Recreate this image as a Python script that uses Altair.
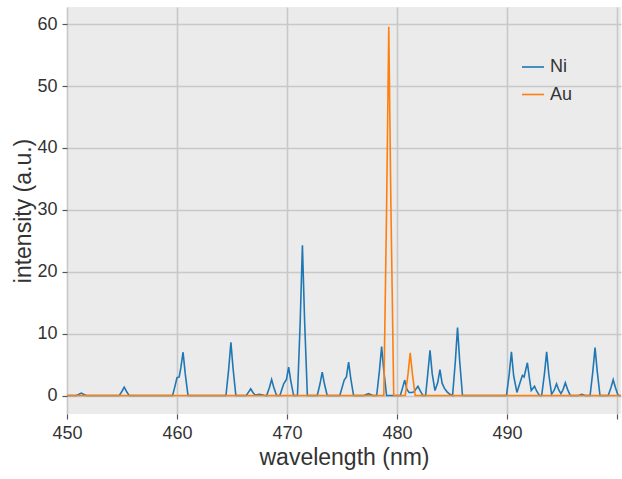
import altair as alt
import pandas as pd

# Ni emission spectrum vertices (wavelength nm, intensity a.u.)
ni_wl = [
    450.0,
    450.85, 451.1, 451.3, 451.5, 451.75,
    454.75, 455.0, 455.2, 455.4, 455.65,
    459.6, 459.8, 460.0, 460.2, 460.35, 460.55, 460.75, 461.0,
    464.45, 464.7, 464.9, 465.1, 465.35,
    466.3, 466.5, 466.7, 466.9, 467.1, 467.5, 467.9,
    468.15, 468.4, 468.6, 468.8, 469.05,
    469.35, 469.7, 469.95, 470.15, 470.35, 470.6,
    470.95, 471.2, 471.4, 471.6, 471.85,
    472.75, 473.0, 473.2, 473.4, 473.65,
    474.8, 475.2, 475.4, 475.6, 475.8, 476.05,
    477.0, 477.4, 477.8,
    478.15, 478.4, 478.6, 478.8, 479.05,
    480.3, 480.5, 480.7, 480.9, 481.1, 481.35, 481.55, 481.7, 481.9, 482.1, 482.35,
    482.6, 482.8, 483.0, 483.2, 483.45, 483.7, 483.9, 484.1, 484.3, 484.55, 484.8, 485.05,
    485.3, 485.5, 485.7, 485.95,
    489.95, 490.2, 490.4, 490.6, 490.9, 491.2, 491.4, 491.55, 491.85, 492.05, 492.2,
    492.5, 492.7, 492.95,
    493.15, 493.4, 493.6, 493.8, 494.05, 494.3, 494.5, 494.7, 494.9, 495.1, 495.3,
    495.5, 495.75,
    496.5, 496.8, 497.1,
    497.55, 497.8, 498.0, 498.2, 498.45,
    499.2, 499.45, 499.65, 499.85, 500.1, 500.36,
]
ni_int = [
    0,
    0, 0.2, 0.4, 0.2, 0,
    0, 0.7, 1.35, 0.7, 0,
    0, 1.4, 2.9, 3.0, 4.5, 7.0, 3.5, 0,
    0, 4.3, 8.6, 4.3, 0,
    0, 0.55, 1.1, 0.5, 0.1, 0.2, 0.05,
    0, 1.3, 2.6, 1.3, 0,
    0, 1.9, 2.6, 4.6, 2.3, 0,
    0, 12.0, 24.3, 12.0, 0,
    0, 1.9, 3.8, 1.9, 0,
    0, 2.5, 3.0, 5.4, 2.7, 0,
    0, 0.3, 0,
    0, 4.0, 7.9, 4.0, 0,
    0, 1.2, 2.5, 1.0, 0.5, 0.5, 0.6, 1.0, 1.5, 0.8, 0,
    0, 3.6, 7.3, 3.5, 0.8, 2.1, 4.2, 2.0, 1.2, 0.6, 0.2, 0,
    5.5, 11.0, 5.5, 0,
    0, 3.5, 7.05, 3.2, 0.5, 2.2, 3.25, 3.0, 5.3, 2.6, 0.8,
    1.5, 0.7, 0,
    0, 3.5, 7.05, 3.4, 0.2, 0.9, 1.9, 0.9, 0.3, 1.0, 2.05,
    1.0, 0,
    0, 0.2, 0,
    0, 3.9, 7.75, 3.9, 0,
    0, 1.3, 2.55, 1.3, 0, 0,
]

# Au emission spectrum vertices
au_wl = [450.0, 478.8, 479.05, 479.25, 479.45, 479.7,
         480.75, 481.0, 481.2, 481.4, 481.65, 500.36]
au_int = [0, 0, 30.0, 59.6, 30.0, 0,
          0, 3.5, 6.9, 3.5, 0, 0]

series_names = ["Ni", "Au"]
series_colors = ["#1f77b4", "#ff7f0e"]
x_ticks = [450, 460, 470, 480, 490, 500]
y_ticks = [0, 10, 20, 30, 40, 50, 60]

df = pd.concat([
    pd.DataFrame({"wl": ni_wl, "intensity": ni_int, "series": "Ni", "k": 0}),
    pd.DataFrame({"wl": au_wl, "intensity": au_int, "series": "Au", "k": 1}),
], ignore_index=True)

chart = alt.Chart(df).mark_line(strokeWidth=1.6, clip=True).encode(
    x=alt.X("wl:Q",
            scale=alt.Scale(domain=[450, 500.36], nice=False, zero=False),
            axis=alt.Axis(values=x_ticks, title="wavelength (nm)", labelFlush=False,
                          labelExpr="datum.value == 500 ? '' : datum.label")),
    y=alt.Y("intensity:Q",
            scale=alt.Scale(domain=[-2.98, 62.78], nice=False, zero=False),
            axis=alt.Axis(values=y_ticks, title="intensity (a.u.)", labelFlush=False)),
    color=alt.Color("series:N",
                    scale=alt.Scale(domain=series_names, range=series_colors),
                    sort=series_names,
                    legend=alt.Legend(title=None, orient="none", legendX=454, legendY=48,
                                      symbolType="stroke", symbolSize=484,
                                      symbolStrokeWidth=1.6, labelFontSize=18,
                                      labelColor="#333333", labelFont="Liberation Sans",
                                      labelOffset=5, rowPadding=6.5, padding=0)),
    detail="k:N",
).properties(
    width=554, height=407,
    autosize=alt.AutoSizeParams(type="none"),
    padding={"left": 67, "top": 7, "right": 1, "bottom": 65},
).configure_view(
    fill="#EBEBEB", strokeWidth=0,
).configure_axis(
    domain=False, tickColor="#555555", tickSize=5, tickWidth=1.2,
    labelColor="#333333", labelFontSize=18, labelFont="Liberation Sans",
    titleColor="#333333", titleFontSize=23, titleFont="Liberation Sans",
    titleFontWeight="normal", labelPadding=5,
    gridColor="#C8C8C8", gridWidth=1.6,
).configure_axisX(titlePadding=4).configure_axisY(titlePadding=1)

chart.save("out.html", embed_options={"renderer": "svg", "actions": False})
